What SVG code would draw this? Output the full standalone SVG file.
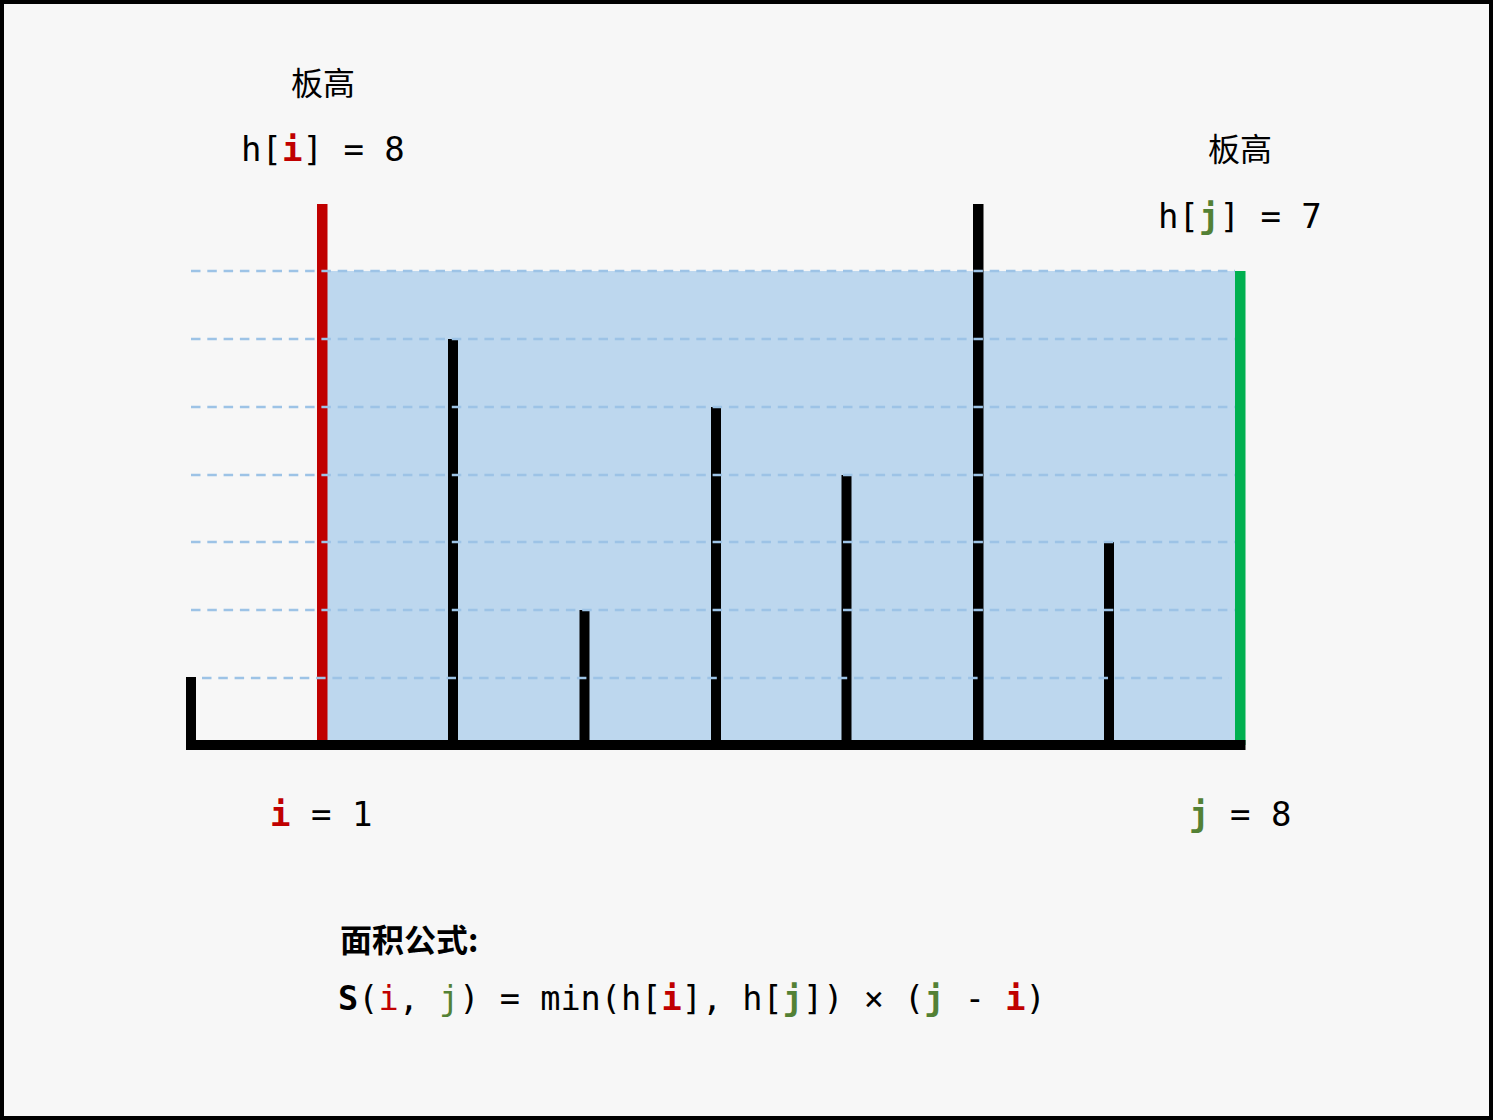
<svg xmlns="http://www.w3.org/2000/svg" width="1493" height="1120" viewBox="0 0 1493 1120">
  <style>
    .mono { font-family: "DejaVu Sans Mono", "Liberation Mono", monospace; font-size: 34px; fill: #000; }
    .fm { font-size: 33.6px; }
    .cjk { font-family: "Noto Sans CJK SC", "Noto Sans", sans-serif; font-size: 32px; fill: #000; }
    .ri { fill: #c00000; }
    .gj { fill: #538135; }
    .b { font-weight: bold; }
    .bar { fill: #000; }
    .dash { stroke: #9dc3e6; stroke-width: 2.4; stroke-dasharray: 9.5 6.8; fill: none; }
  </style>
  <rect x="2" y="2" width="1489" height="1116" fill="#f7f7f7" stroke="#000" stroke-width="4"/>

  <g id="water">
    <rect x="327" y="271" width="908" height="469" fill="#bdd7ee"/>
  </g>

  <g id="bars">
    <rect class="bar" x="186" y="677" width="10" height="68"/>
    <rect id="bar-i" x="317" y="204" width="10.5" height="541" fill="#c00000"/>
    <rect class="bar" x="448" y="339" width="10" height="406"/>
    <rect class="bar" x="579.5" y="610" width="10" height="135"/>
    <rect class="bar" x="711" y="407" width="10" height="338"/>
    <rect class="bar" x="841.5" y="475" width="10" height="270"/>
    <rect class="bar" x="973" y="204" width="10.5" height="541"/>
    <rect class="bar" x="1104" y="542" width="10" height="203"/>
    <rect id="bar-j" x="1235" y="271" width="10.5" height="474" fill="#00b050"/>
  </g>

  <g id="levels">
    <line class="dash" x1="191" y1="271" x2="1235" y2="271"/>
    <line class="dash" x1="191" y1="339" x2="1235" y2="339"/>
    <line class="dash" x1="191" y1="407" x2="1235" y2="407"/>
    <line class="dash" x1="191" y1="475" x2="1235" y2="475"/>
    <line class="dash" x1="191" y1="542" x2="1235" y2="542"/>
    <line class="dash" x1="191" y1="610" x2="1235" y2="610"/>
    <line class="dash" x1="202" y1="678" x2="1229" y2="678"/>
  </g>

  <g id="ground">
    <rect x="186" y="740" width="1059.5" height="10" fill="#000"/>
  </g>

  <g id="label-i">
    <text class="cjk" x="291" y="95">板高</text>
    <text class="mono" x="241" y="161">h[<tspan class="ri b">i</tspan>] = 8</text>
    <text class="mono" x="270" y="826"><tspan class="ri b">i</tspan> = 1</text>
  </g>

  <g id="label-j">
    <text class="cjk" x="1208" y="161">板高</text>
    <text class="mono" x="1158" y="228">h[<tspan class="gj b">j</tspan>] = 7</text>
    <text class="mono" x="1189" y="826"><tspan class="gj b">j</tspan> = 8</text>
  </g>

  <g id="formula">
    <text class="cjk b" x="340" y="952">面积公式:</text>
    <text class="mono fm" x="338" y="1010"><tspan class="b">S</tspan>(<tspan class="ri">i</tspan>, <tspan class="gj">j</tspan>) = min(h[<tspan class="ri b">i</tspan>], h[<tspan class="gj b">j</tspan>]) × (<tspan class="gj b">j</tspan> - <tspan class="ri b">i</tspan>)</text>
  </g>
</svg>
